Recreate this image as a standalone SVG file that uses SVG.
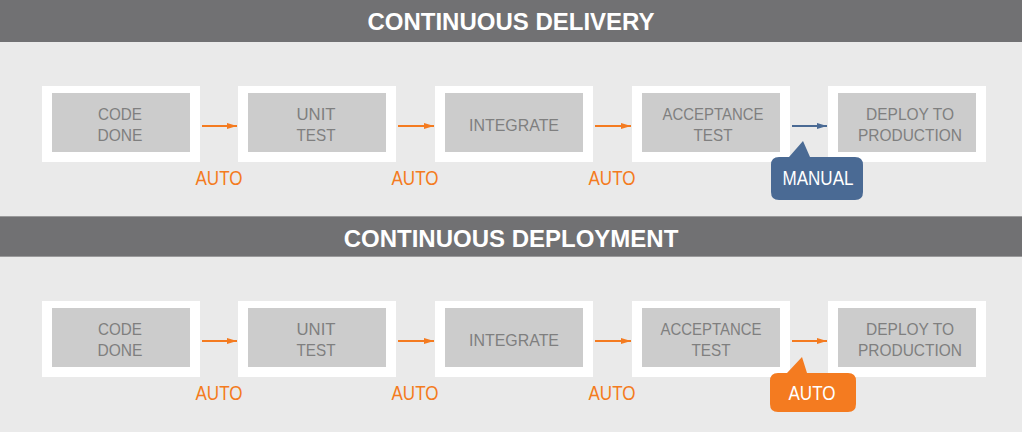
<svg xmlns="http://www.w3.org/2000/svg" width="1022" height="432" viewBox="0 0 1022 432">
<defs>
<style>
.hdr{fill:#717173}
.hdrt{font-family:"Liberation Sans",Arial,sans-serif;font-weight:bold;font-size:24px;fill:#fff;text-anchor:middle}
.outer{fill:#fff}
.inner{fill:#ccc}
.nt{font-family:"Liberation Sans",Arial,sans-serif;font-size:17px;fill:#7f7f7f;text-anchor:middle}
.auto{font-family:"Liberation Sans",Arial,sans-serif;font-size:20px;fill:#f47b20;text-anchor:middle}
.bt{font-family:"Liberation Sans",Arial,sans-serif;font-size:20px;fill:#fff;text-anchor:middle}
.ao{stroke:#f47b20;stroke-width:2;fill:none}
.ab{stroke:#4a6a94;stroke-width:2;fill:none}
</style>
<marker id="mo" viewBox="0 0 10 6" refX="10" refY="3" markerWidth="10" markerHeight="6" markerUnits="userSpaceOnUse" orient="auto"><path d="M0,0L10,3L0,6z" fill="#f47b20"/></marker>
<marker id="mb" viewBox="0 0 10 6" refX="10" refY="3" markerWidth="10" markerHeight="6" markerUnits="userSpaceOnUse" orient="auto"><path d="M0,0L10,3L0,6z" fill="#4a6a94"/></marker>
</defs>
<rect width="1022" height="432" fill="#eaeaea"/>
<g id="header1">
<rect class="hdr" x="0" y="0" width="1022" height="42"/>
<text class="hdrt" x="511" y="30">CONTINUOUS DELIVERY</text>
</g>
<g id="header2">
<rect x="0" y="216" width="1022" height="41" fill="#9a9a9b"/>
<rect class="hdr" x="0" y="217" width="1022" height="39"/>
<text class="hdrt" x="511" y="247">CONTINUOUS DEPLOYMENT</text>
</g>

<g id="r1-code"><rect class="outer" x="42" y="86" width="158" height="76"/><rect class="inner" x="52" y="93" width="138" height="59"/><text class="nt" x="120" y="120" textLength="44" lengthAdjust="spacingAndGlyphs">CODE</text><text class="nt" x="120" y="141" textLength="45" lengthAdjust="spacingAndGlyphs">DONE</text></g>
<g id="r1-unit"><rect class="outer" x="238" y="86" width="158" height="76"/><rect class="inner" x="248" y="93" width="138" height="59"/><text class="nt" x="316" y="120" textLength="39" lengthAdjust="spacingAndGlyphs">UNIT</text><text class="nt" x="316" y="141" textLength="39" lengthAdjust="spacingAndGlyphs">TEST</text></g>
<g id="r1-integrate"><rect class="outer" x="435" y="86" width="158" height="76"/><rect class="inner" x="445" y="93" width="138" height="59"/><text class="nt" x="514" y="131" textLength="90" lengthAdjust="spacingAndGlyphs">INTEGRATE</text></g>
<g id="r1-accept"><rect class="outer" x="632" y="86" width="158" height="76"/><rect class="inner" x="642" y="93" width="138" height="59"/><text class="nt" x="713" y="120" textLength="101" lengthAdjust="spacingAndGlyphs">ACCEPTANCE</text><text class="nt" x="713" y="141" textLength="39" lengthAdjust="spacingAndGlyphs">TEST</text></g>
<g id="r1-deploy"><rect class="outer" x="828" y="86" width="158" height="76"/><rect class="inner" x="838" y="93" width="138" height="59"/><text class="nt" x="910" y="120" textLength="88" lengthAdjust="spacingAndGlyphs">DEPLOY TO</text><text class="nt" x="910" y="141" textLength="104" lengthAdjust="spacingAndGlyphs">PRODUCTION</text></g>

<g id="r2-code"><rect class="outer" x="42" y="301" width="158" height="76"/><rect class="inner" x="52" y="308" width="138" height="59"/><text class="nt" x="120" y="335" textLength="44" lengthAdjust="spacingAndGlyphs">CODE</text><text class="nt" x="120" y="356" textLength="45" lengthAdjust="spacingAndGlyphs">DONE</text></g>
<g id="r2-unit"><rect class="outer" x="238" y="301" width="158" height="76"/><rect class="inner" x="248" y="308" width="138" height="59"/><text class="nt" x="316" y="335" textLength="39" lengthAdjust="spacingAndGlyphs">UNIT</text><text class="nt" x="316" y="356" textLength="39" lengthAdjust="spacingAndGlyphs">TEST</text></g>
<g id="r2-integrate"><rect class="outer" x="435" y="301" width="158" height="76"/><rect class="inner" x="445" y="308" width="138" height="59"/><text class="nt" x="514" y="346" textLength="90" lengthAdjust="spacingAndGlyphs">INTEGRATE</text></g>
<g id="r2-accept"><rect class="outer" x="632" y="301" width="158" height="76"/><rect class="inner" x="642" y="308" width="138" height="59"/><text class="nt" x="711" y="335" textLength="101" lengthAdjust="spacingAndGlyphs">ACCEPTANCE</text><text class="nt" x="711" y="356" textLength="39" lengthAdjust="spacingAndGlyphs">TEST</text></g>
<g id="r2-deploy"><rect class="outer" x="828" y="301" width="158" height="76"/><rect class="inner" x="838" y="308" width="138" height="59"/><text class="nt" x="910" y="335" textLength="88" lengthAdjust="spacingAndGlyphs">DEPLOY TO</text><text class="nt" x="910" y="356" textLength="104" lengthAdjust="spacingAndGlyphs">PRODUCTION</text></g>

<g id="connectors">
<line class="ao" x1="202" y1="126" x2="237" y2="126" marker-end="url(#mo)"/>
<line class="ao" x1="398" y1="126" x2="434" y2="126" marker-end="url(#mo)"/>
<line class="ao" x1="595" y1="126" x2="631" y2="126" marker-end="url(#mo)"/>
<line class="ab" x1="792" y1="126" x2="827" y2="126" marker-end="url(#mb)"/>
<line class="ao" x1="202" y1="341" x2="237" y2="341" marker-end="url(#mo)"/>
<line class="ao" x1="398" y1="341" x2="434" y2="341" marker-end="url(#mo)"/>
<line class="ao" x1="595" y1="341" x2="631" y2="341" marker-end="url(#mo)"/>
<line class="ao" x1="792" y1="341" x2="827" y2="341" marker-end="url(#mo)"/>
</g>

<g id="labels">
<text class="auto" x="219" y="185" textLength="47" lengthAdjust="spacingAndGlyphs">AUTO</text>
<text class="auto" x="415" y="185" textLength="47" lengthAdjust="spacingAndGlyphs">AUTO</text>
<text class="auto" x="612" y="185" textLength="47" lengthAdjust="spacingAndGlyphs">AUTO</text>
<text class="auto" x="219" y="400" textLength="47" lengthAdjust="spacingAndGlyphs">AUTO</text>
<text class="auto" x="415" y="400" textLength="47" lengthAdjust="spacingAndGlyphs">AUTO</text>
<text class="auto" x="612" y="400" textLength="47" lengthAdjust="spacingAndGlyphs">AUTO</text>
</g>

<g id="bubble-manual">
<path d="M779,157 L789,157 L803,141 L810,157 L855,157 Q863,157 863,165 L863,192 Q863,200 855,200 L779,200 Q771,200 771,192 L771,165 Q771,157 779,157 Z" fill="#4a6a94"/>
<text class="bt" x="818" y="185" textLength="71" lengthAdjust="spacingAndGlyphs">MANUAL</text>
</g>
<g id="bubble-auto">
<path d="M778,373 L787,373 L802,357 L807,373 L848,373 Q856,373 856,381 L856,404 Q856,412 848,412 L778,412 Q770,412 770,404 L770,381 Q770,373 778,373 Z" fill="#f47b20"/>
<text class="bt" x="812" y="400" textLength="47" lengthAdjust="spacingAndGlyphs">AUTO</text>
</g>
</svg>
